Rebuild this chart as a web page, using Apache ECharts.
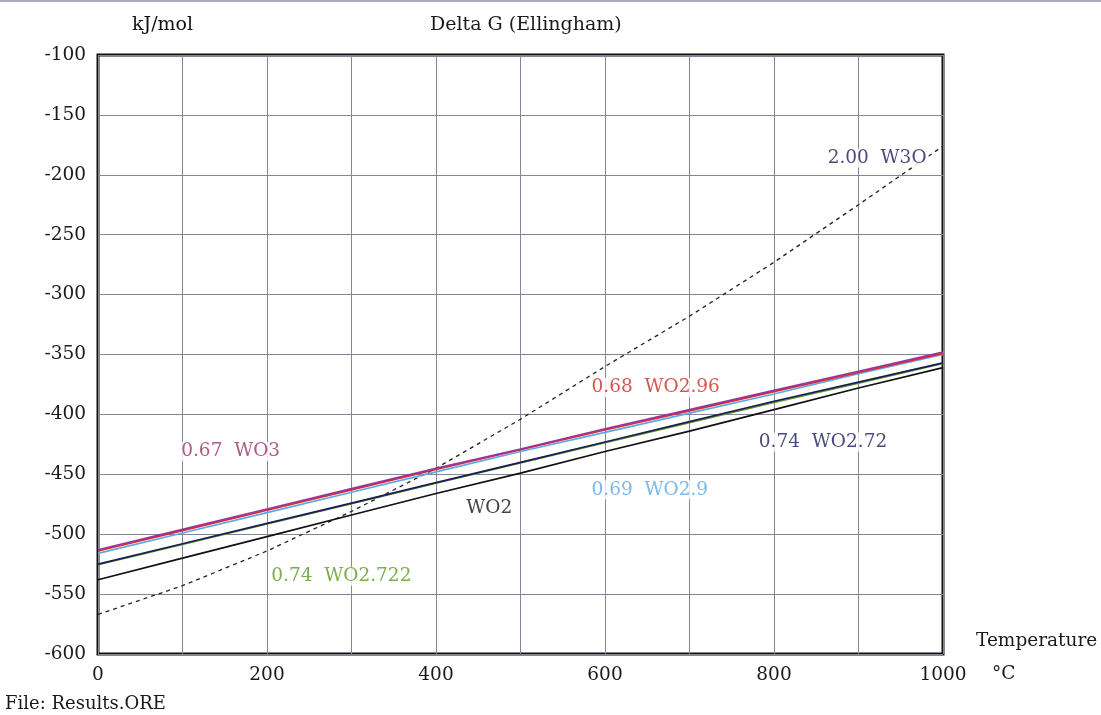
<!DOCTYPE html>
<html><head><meta charset="utf-8">
<script src="https://cdn.jsdelivr.net/npm/echarts@6/dist/echarts.min.js"></script>
<style>html,body{margin:0;padding:0;background:#fff}#c{width:1101px;height:715px}</style>
</head><body><div id="c"></div>
<script>
// Temperatures (°C)
const temps = [0,100,200,300,400,500,600,700,800,900,1000];
// Delta G values (kJ/mol)
const WO3    = [-513,-496,-479,-462,-445,-429,-412,-396,-380,-364,-348];
const WO296  = [-514,-497,-480,-463,-446,-429.5,-413,-397,-381,-365,-349];
const WO29   = [-516,-499,-482,-465,-448,-431,-415,-399,-383,-366,-350];
const WO272  = [-525,-508,-491,-474,-457,-440,-423,-406,-389,-373,-357];
const WO2722 = [-525.5,-508.5,-491.5,-474.5,-457.5,-440.5,-423.5,-407,-390,-374,-357.5];
const WO2    = [-538,-520,-502,-484,-466,-449,-431,-414,-396,-378,-361];
const W3O    = [-567,-543,-514,-481,-445,-404,-360,-318,-273,-225,-176];
// Curve labels: [text, temperature, value, colour]
const labels = [
  ['0.67  WO3', 157, -431, '#993366'],
  ['0.68  WO2.96', 660, -377.5, '#cc2a22'],
  ['0.74  WO2.72', 858, -423, '#1c1c5a'],
  ['0.69  WO2.9', 653, -463, '#5aa8e6'],
  ['WO2', 463, -478, '#111111'],
  ['0.74  WO2.722', 288, -535, '#5c9a22'],
  ['2.00  W3O', 922, -186, '#1c1c5a']
];
const xTicks = [0,200,400,600,800,1000];

const FONT = 'DejaVu Serif';
const FS = 18.5;
const pair = arr => temps.map((t,i)=>[t,arr[i]]);
function line(name, arr, color, w, type){
  return {name, type:'line', data:pair(arr), showSymbol:false, smooth:false, z:3,
    lineStyle:{color, width:w, type:type||'solid'}, silent:true};
}
const chart = echarts.init(document.getElementById('c'));
chart.setOption({
  animation:false,
  backgroundColor:'#fff',
  grid:{left:98, right:158, top:55, bottom:61, show:true, borderColor:'#111', borderWidth:3, backgroundColor:'transparent'},
  xAxis:{type:'value', min:0, max:1000, interval:100,
    axisLine:{show:false}, axisTick:{show:false},
    splitLine:{show:true, lineStyle:{color:'#85859a', width:1}},
    axisLabel:{margin:12, fontFamily:FONT, fontSize:FS, color:'#1a1a1a',
      formatter:v=> xTicks.includes(v)? String(v):''}},
  yAxis:{type:'value', min:-600, max:-100, interval:50,
    axisLine:{show:false}, axisTick:{show:false},
    splitLine:{show:true, lineStyle:{color:'#85859a', width:1}},
    axisLabel:{margin:12, fontFamily:FONT, fontSize:FS, color:'#1a1a1a'}},
  series:[
    line('W3O', W3O, '#222', 1.3, [4,4]),
    line('WO2', WO2, '#111', 1.7),
    line('WO2.722', WO2722, '#5c9a22', 1.7),
    line('WO2.72', WO272, '#1c1c5a', 1.7),
    line('WO2.9', WO29, '#5aa8e6', 1.7),
    line('WO2.96', WO296, '#dd2a2a', 1.7),
    line('WO3', WO3, '#993399', 1.7),
    {type:'scatter', symbolSize:0, z:5, silent:true,
      data:labels.map(l=>({value:[l[1],l[2]], label:{show:true, position:'inside', formatter:l[0],
        color:l[3], fontFamily:FONT, fontSize:FS, backgroundColor:'#fff', padding:[0,2]}}))}
  ],
  graphic:[
    {type:'rect', left:0, top:0, shape:{width:1101, height:2}, style:{fill:'#a8acc0'}},
    {type:'text', left:132, top:16, style:{text:'kJ/mol', font:'19px "DejaVu Serif"', fill:'#111'}},
    {type:'text', left:430, top:16, style:{text:'Delta G (Ellingham)', font:'19px "DejaVu Serif"', fill:'#1a1a1a'}},
    {type:'text', left:976, top:632, style:{text:'Temperature', font:'18.5px "DejaVu Serif"', fill:'#1a1a1a'}},
    {type:'text', left:992, top:665, style:{text:'°C', font:'18.5px "DejaVu Serif"', fill:'#1a1a1a'}},
    {type:'text', left:5, top:695, style:{text:'File: Results.ORE', font:'18px "DejaVu Serif"', fill:'#1a1a1a'}}
  ]
});
</script></body></html>
